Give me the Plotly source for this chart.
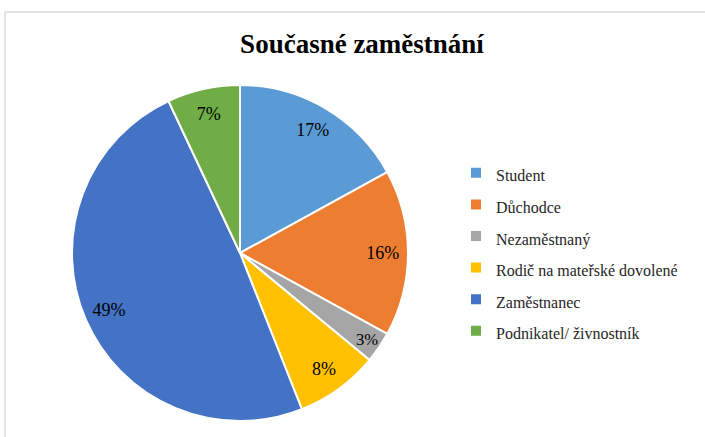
import plotly.graph_objects as go

title = "Současné zaměstnání"
labels = ["Student", "Důchodce", "Nezaměstnaný", "Rodič na mateřské dovolené",
          "Zaměstnanec", "Podnikatel/ živnostník"]
values = [17, 16, 3, 8, 49, 7]
colors = ["#5B9BD5", "#ED7D31", "#A5A5A5", "#FFC000", "#4472C4", "#70AD47"]

W, H = 705, 437
serif = "Liberation Serif"

legend_labels = [f"<span style='font-size:16px'>{l}</span>" for l in labels]
pie_domain = dict(x=[(240 - 168) / W, (240 + 168) / W], y=[1 - 421 / H, 1 - 85 / H])

fig = go.Figure()
# main slices
fig.add_trace(go.Pie(
    labels=legend_labels,
    values=values,
    sort=False,
    direction="clockwise",
    rotation=0,
    marker=dict(colors=colors, line=dict(color="white", width=2)),
    textinfo="none",
    domain=pie_domain,
    hoverinfo="label+percent",
))
# transparent ring carrying the percentage labels near the outer edge
fig.add_trace(go.Pie(
    labels=legend_labels,
    values=values,
    sort=False,
    direction="clockwise",
    rotation=0,
    hole=0.7,
    marker=dict(colors=["rgba(0,0,0,0)"] * len(values), line=dict(width=0)),
    textinfo="percent",
    textposition="inside",
    insidetextorientation="horizontal",
    textfont=dict(family=serif, size=18, color="black"),
    insidetextfont=dict(family=serif, size=18, color="black"),
    domain=pie_domain,
    showlegend=False,
    hoverinfo="skip",
))

fig.update_layout(
    width=W, height=H,
    margin=dict(l=0, r=0, t=0, b=0),
    paper_bgcolor="white",
    plot_bgcolor="white",
    font=dict(family=serif),
    title=dict(text=f"<b>{title}</b>", x=362 / W, xanchor="center", y=1 - 44 / H, yanchor="middle",
               font=dict(family=serif, size=27, color="black")),
    legend=dict(x=(496 - 40) / W, xanchor="left", y=1 - 152 / H, yanchor="top",
                font=dict(family=serif, size=22, color="#262626"),
                bgcolor="rgba(0,0,0,0)"),
    shapes=[
        dict(type="line", xref="paper", yref="paper", x0=5 / W, x1=1.01, y0=1 - 12 / H, y1=1 - 12 / H,
             line=dict(color="#D9D9D9", width=1.5)),
        dict(type="line", xref="paper", yref="paper", x0=5 / W, x1=5 / W, y0=1 - 12 / H, y1=-0.01,
             line=dict(color="#D9D9D9", width=1.5)),
    ],
)

fig.write_html("out.html", config={"displayModeBar": False},
               post_script="document.body.style.margin='0';document.body.style.overflow='hidden';")
